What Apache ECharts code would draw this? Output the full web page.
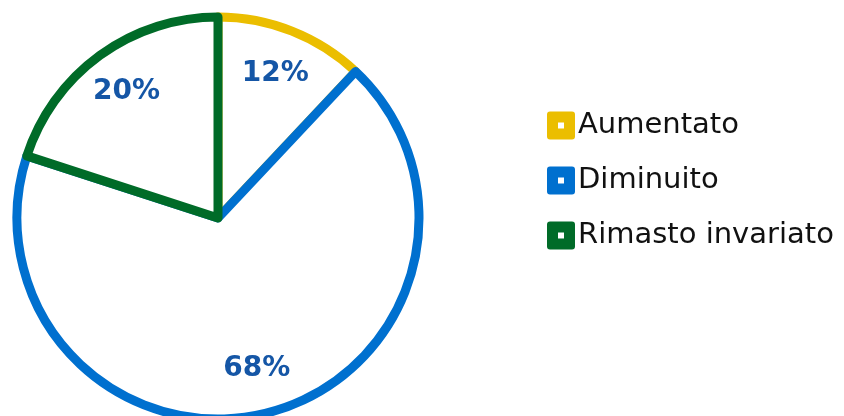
<!DOCTYPE html>
<html>
<head>
<meta charset="utf-8">
<script src="https://cdn.jsdelivr.net/npm/echarts@6/dist/echarts.min.js"></script>
<style>
  html, body { margin: 0; padding: 0; background: #fff; }
  #main { width: 844px; height: 416px; }
</style>
</head>
<body>
<div id="main"></div>
<script>
var categories = ['Aumentato', 'Diminuito', 'Rimasto invariato'];
var values = [12, 68, 20];
var colors = ['#EBBE00', '#0070CF', '#006B28'];

var myChart = echarts.init(document.getElementById('main'));

var pieData = categories.map(function (name, i) {
    return {
        name: name,
        value: values[i],
        itemStyle: {color: '#ffffff', borderColor: colors[i]}
    };
});

var labelData = categories.map(function (name, i) {
    return {name: name, value: values[i]};
});

myChart.setOption({
    animation: false,
    legend: {
        orient: 'vertical',
        left: 542,
        top: 106,
        itemWidth: 28,
        itemHeight: 28,
        itemGap: 26,
        selectedMode: false,
        icon: 'path://M3,0 H25 Q28,0 28,3 V25 Q28,28 25,28 H3 Q0,28 0,25 V3 Q0,0 3,0 Z M11,11 V17 H17 V11 Z',
        textStyle: {
            fontFamily: 'DejaVu Sans',
            fontSize: 29,
            color: '#111111',
            padding: [0, 0, 0, -2]
        },
        data: categories.map(function (name, i) {
            return {name: name, itemStyle: {color: colors[i], borderWidth: 0}};
        })
    },
    series: [
        {
            name: 'torta',
            type: 'pie',
            center: [218, 218],
            radius: 201,
            startAngle: 90,
            clockwise: true,
            silent: true,
            itemStyle: {borderWidth: 9, borderJoin: 'round'},
            label: {show: false},
            labelLine: {show: false},
            data: pieData
        },
        {
            name: 'etichette',
            type: 'pie',
            center: [218, 218],
            radius: [104, 201],
            startAngle: 90,
            clockwise: true,
            silent: true,
            legendHoverLink: false,
            itemStyle: {color: 'rgba(0,0,0,0)', borderWidth: 0},
            label: {
                show: true,
                position: 'inside',
                formatter: '{c}%',
                fontFamily: 'DejaVu Sans',
                fontWeight: 'bold',
                fontSize: 28,
                color: '#1556A6'
            },
            labelLine: {show: false},
            data: labelData
        }
    ]
});
</script>
</body>
</html>
